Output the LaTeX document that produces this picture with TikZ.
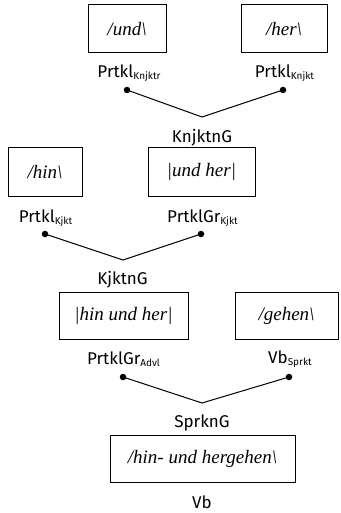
\documentclass[tikz,border=0pt]{standalone}
\usepackage{fontspec}
\setmainfont{Liberation Serif}
\setsansfont{Fira Sans}
\newcommand{\lowsub}[1]{\raisebox{-1.5pt}{\fontsize{10}{11}\selectfont #1}}
\begin{document}
\begin{tikzpicture}[x=1pt,y=-1pt,
  wbox/.style={draw,line width=1pt,inner sep=0pt,
    font=\fontsize{19}{21}\selectfont\itshape},
  cat/.style={font=\sffamily\fontsize{17}{19}\selectfont,inner sep=0pt},
  knot/.style={circle,fill,inner sep=0pt,minimum size=6.5pt},
  branch/.style={line width=1pt}]
\useasboundingbox (0,0) rectangle (340,513);

% word forms in boxes
\node[wbox,minimum width=78pt,minimum height=48pt] (und) at (127,29) {/und\textbackslash};
\node[wbox,minimum width=86pt,minimum height=48pt] (her) at (284,29) {/her\textbackslash};
\node[wbox,minimum width=74pt,minimum height=48pt] (hin) at (45,172) {/hin\textbackslash};
\node[wbox,minimum width=107pt,minimum height=48pt] (undher) at (201.5,172) {|und her|};
\node[wbox,minimum width=129pt,minimum height=47pt] (hinundher) at (123.5,315.5) {|hin und her|};
\node[wbox,minimum width=103pt,minimum height=47pt] (gehen) at (286.5,315.5) {/gehen\textbackslash};
\node[wbox,minimum width=185pt,minimum height=47pt] (result) at (202.5,458.5) {/hin- und hergehen\textbackslash};

% category labels
\node[cat] (c1) at (129,73) {Prtkl\lowsub{Knjktr}};
\node[cat] (c2) at (284.5,73) {Prtkl\lowsub{Knjkt}};
\node[cat] (g1) at (202,138) {KnjktnG};
\node[cat] (c3) at (45.5,218) {Prtkl\lowsub{Kjkt}};
\node[cat] (c4) at (202.5,218) {PrtklGr\lowsub{Kjkt}};
\node[cat] (g2) at (122.5,280) {KjktnG};
\node[cat] (c5) at (123.5,359) {PrtklGr\lowsub{Advl}};
\node[cat] (c6) at (290,359) {Vb\lowsub{Sprkt}};
\node[cat] (g3) at (202,423) {SprknG};
\node[cat] (c7) at (202,502) {Vb};

% branching knots and joins
\node[knot] (k1) at (127,90) {};
\node[knot] (k2) at (283,90) {};
\node[knot] (k3) at (45,234) {};
\node[knot] (k4) at (201,234) {};
\node[knot] (k5) at (123,377) {};
\node[knot] (k6) at (289,377) {};
\coordinate (j1) at (202,117);
\coordinate (j2) at (123,260);
\coordinate (j3) at (202,403);

\draw[branch] (k1.center) -- (j1) -- (k2.center);
\draw[branch] (k3.center) -- (j2) -- (k4.center);
\draw[branch] (k5.center) -- (j3) -- (k6.center);
\end{tikzpicture}
\end{document}
